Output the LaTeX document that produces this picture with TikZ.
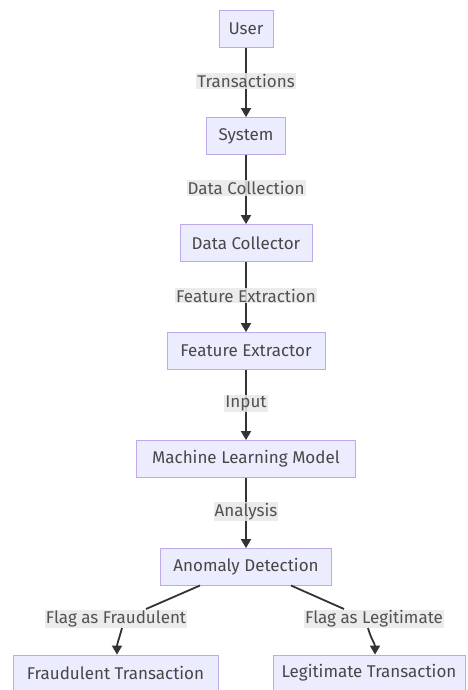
\documentclass[tikz,border=0pt]{standalone}
\usepackage{fontspec}
\setmainfont{Fira Sans}
\usetikzlibrary{arrows.meta}
\definecolor{boxfill}{HTML}{ECECFF}
\definecolor{boxline}{HTML}{9370DB}
\definecolor{ink}{HTML}{333333}
\definecolor{lblbg}{HTML}{E8E8E8}
\tikzset{
  stepbox/.style={draw=boxline!60, fill=boxfill, line width=0.8pt,
    minimum height=37pt, inner sep=0pt, text=ink!90,
    font=\fontsize{17}{19}\selectfont},
  lbl/.style={fill=lblbg, fill opacity=0.85, text opacity=1, text=ink!85,
    inner sep=1pt, font=\fontsize{17}{19}\selectfont},
  flow/.style={draw=ink, line width=1.8pt,
    -{Triangle[length=9pt,width=10pt]}},
  seg/.style={draw=ink, line width=1.8pt},
}
\begin{document}
\begin{tikzpicture}[x=1pt,y=-1pt]
  \useasboundingbox (0,0) rectangle (468,690);
  \fill[white] (0,0) rectangle (468,690);

  % process steps
  \node[stepbox, minimum width=54pt]  (user) at (246,29)  {User};
  \node[stepbox, minimum width=79pt]  (sys)  at (246,136) {System};
  \node[stepbox, minimum width=132pt] (dc)   at (246,243) {Data Collector};
  \node[stepbox, minimum width=158pt] (fe)   at (246,351) {Feature Extractor};
  \node[stepbox, minimum width=219pt] (ml)   at (246,459) {Machine Learning Model};
  \node[stepbox, minimum width=171pt] (ad)   at (246,567) {Anomaly Detection};
  \node[stepbox, minimum width=205pt, minimum height=35pt] (fr) at (115.5,672.5) {Fraudulent Transaction};
  \node[stepbox, minimum width=192pt, minimum height=35pt] (lg) at (369,672.5) {Legitimate Transaction};

  % straight links with their labels
  \draw[flow] (user) -- (sys)  node[lbl, pos=0.48] (l1) {Transactions};
  \draw[flow] (sys)  -- (dc)   node[lbl, pos=0.48] (l2) {Data Collection};
  \draw[flow] (dc)   -- (fe)   node[lbl, pos=0.48] (l3) {Feature Extraction};
  \draw[flow] (fe)   -- (ml)   node[lbl, pos=0.48] (l4) {Input};
  \draw[flow] (ml)   -- (ad)   node[lbl, pos=0.48] (l5) {Analysis};

  % branching links
  \coordinate (adl) at (200,585.5);
  \coordinate (adr) at (291,585.5);
  \node[lbl] (lf) at (116,619) {Flag as Fraudulent};
  \node[lbl] (ll) at (374,619) {Flag as Legitimate};
  \draw[seg] (adl) -- (146,609);
  \draw[flow] (122,628) to[out=-105,in=90] (fr.north -| 117,0);
  \draw[seg] (adr) -- (344,609);
  \draw[flow] (368,628) to[out=-75,in=90] (lg.north -| 375,0);
\end{tikzpicture}
\end{document}
